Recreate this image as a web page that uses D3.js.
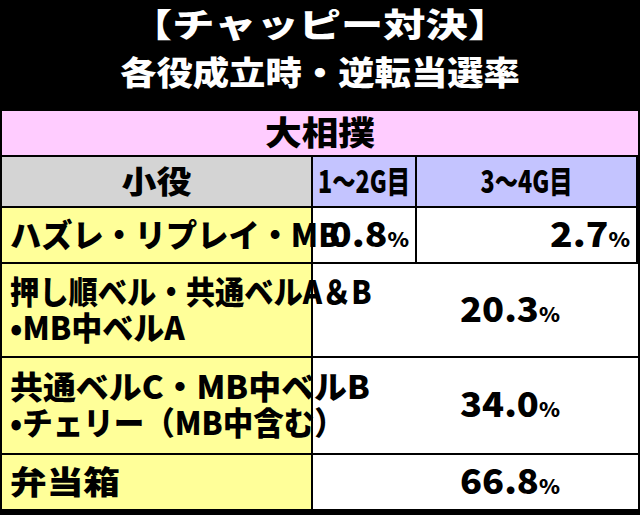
<!DOCTYPE html>
<html>
<head>
<meta charset="utf-8">
<style>
  body { margin: 0; background: #000; }
  svg text { font-family: "Noto Sans CJK JP", sans-serif; font-weight: 900; }
</style>
</head>
<body>
<svg class="drawing"></svg>
<script src="https://d3js.org/d3.v7.min.js"></script>
<script>
var titleLines = ['【チャッピー対決】', '各役成立時・逆転当選率'];
var section = '大相撲';
var headers = ['小役', '1〜2G目', '3〜4G目'];
// each row: label lines, values (one value = merged over both columns)
var rowLabels = [
    ['ハズレ・リプレイ・MB'],
    ['押し順ベル・共通ベルA＆B', '•MB中ベルA'],
    ['共通ベルC・MB中ベルB', '•チェリー（MB中含む）'],
    ['弁当箱']
];
var rowValues = [[0.8, 2.7], [20.3], [34.0], [66.8]];
var labelWidths = [[330], [362, 175], [360, 335], [110]];

var w = 640, h = 515;
var svg = d3.select('.drawing').attr('width', w).attr('height', h);
svg.append('rect').attr('width', w).attr('height', h).attr('fill', '#000');

// squeeze a text horizontally to a given width, around its anchor x
function fit(t, width) {
    var x = +t.attr('x');
    var len = t.node().getComputedTextLength();
    if (!len) return;
    var s = width / len;
    t.attr('transform', 'translate(' + x + ',0) scale(' + s + ',1) translate(' + (-x) + ',0)');
}

titleLines.forEach(function(d, i) {
    var t = svg.append('text').attr('x', w / 2).attr('y', 37 + i * 48)
        .attr('text-anchor', 'middle').attr('fill', '#fff').attr('font-size', 33).text(d);
    fit(t, i ? 400 : 380);
});

var colX = [2, 313, 417, 638];
var rowY = [111, 157, 208, 264, 358, 455, 511];

svg.append('rect').attr('x', colX[0]).attr('y', rowY[0])
    .attr('width', colX[3] - colX[0]).attr('height', rowY[1] - rowY[0] - 2).attr('fill', '#ffccff');
fit(svg.append('text').attr('x', 320).attr('y', rowY[0] + 34).attr('text-anchor', 'middle')
    .attr('font-size', 33).text(section), 110);

var hColors = ['#d4d4d4', '#c4c4ff', '#c4c4ff'];
headers.forEach(function(d, i) {
    var x0 = colX[i], x1 = colX[i + 1] - 2;
    svg.append('rect').attr('x', x0).attr('y', rowY[1]).attr('width', x1 - x0)
        .attr('height', rowY[2] - rowY[1] - 2).attr('fill', hColors[i]);
    var t = svg.append('text').attr('x', (x0 + x1) / 2).attr('y', rowY[1] + 36)
        .attr('text-anchor', 'middle').attr('font-size', 31).text(d);
    fit(t, i == 0 ? 70 : 92);
});

rowLabels.forEach(function(lines, r) {
    var y0 = rowY[r + 2], y1 = rowY[r + 3] - 2;
    var cy = (y0 + y1) / 2;
    svg.append('rect').attr('x', colX[0]).attr('y', y0).attr('width', colX[1] - 2 - colX[0])
        .attr('height', y1 - y0).attr('fill', '#ffff99');
    var vals = rowValues[r];
    vals.forEach(function(v, k) {
        var x0 = vals.length == 1 ? colX[1] : colX[1 + k];
        var x1 = vals.length == 1 ? colX[3] : colX[2 + k] - 2;
        svg.append('rect').attr('x', x0).attr('y', y0).attr('width', x1 - x0)
            .attr('height', y1 - y0).attr('fill', '#fff');
        var t = svg.append('text').attr('y', cy + 12).attr('font-size', 34);
        t.append('tspan').text(v.toFixed(1));
        t.append('tspan').attr('font-size', 20).text('%');
        if (vals.length == 1) { t.attr('x', 510).attr('text-anchor', 'middle'); fit(t, 100); }
        else { t.attr('x', x1 - 6).attr('text-anchor', 'end'); fit(t, 80); }
    });
    lines.forEach(function(d, k) {
        var t = svg.append('text').attr('x', 10)
            .attr('y', cy + 12 + (k - (lines.length - 1) / 2) * 36)
            .attr('font-size', 32).text(d);
        fit(t, labelWidths[r][k]);
    });
});
</script>
</body>
</html>
